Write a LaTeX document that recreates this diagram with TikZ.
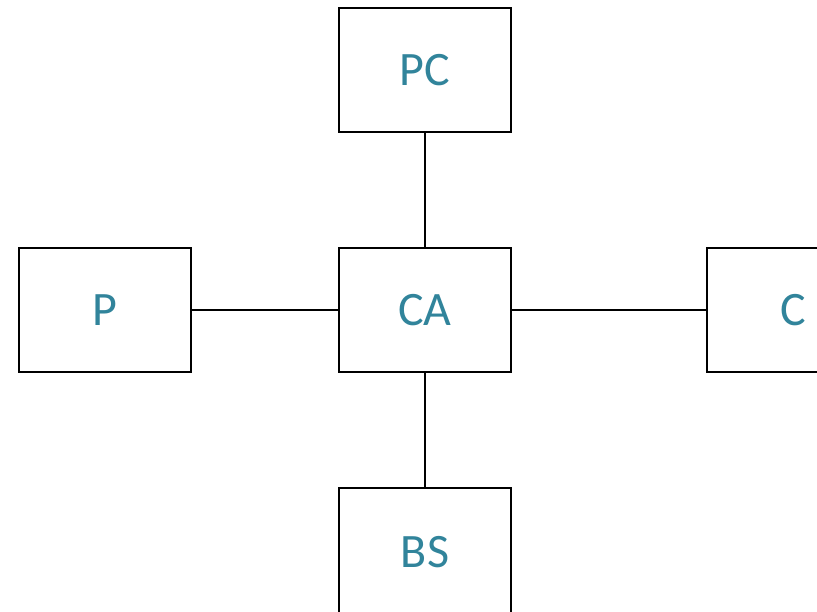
\documentclass[tikz,border=0pt]{standalone}
\usepackage{fontspec}
\setmainfont{Carlito}
\definecolor{labelteal}{RGB}{49,132,155}
\begin{document}
\begin{tikzpicture}[x=1pt,y=-1pt,
  blockbox/.style={draw=black,line width=1.6pt,fill=white,minimum width=172pt,minimum height=124pt,inner sep=0pt,anchor=center,
    font=\fontsize{48}{52}\selectfont,text=labelteal},
  link/.style={draw=black,line width=1.6pt}]
\useasboundingbox (0,0) rectangle (817,611);
\clip (0,0) rectangle (817,611);
\node[blockbox] (pc) at (425,70) {PC};
\node[blockbox] (ca) at (425,310) {CA};
\node[blockbox] (p) at (105,310) {P};
\node[blockbox] (c) at (793,310) {C};
\node[blockbox,minimum height=130pt] (bs) at (425,553) {\raisebox{3pt}{BS}};
\draw[link] (pc) -- (ca);
\draw[link] (p) -- (ca);
\draw[link] (ca) -- (c);
\draw[link] (ca) -- (bs);
\end{tikzpicture}
\end{document}
